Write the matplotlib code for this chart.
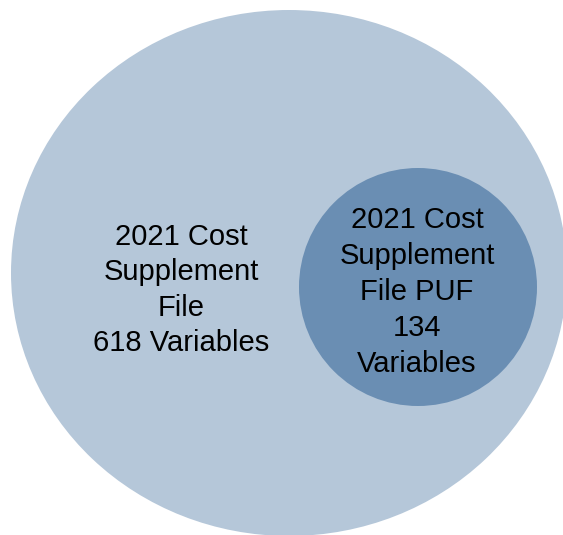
import matplotlib.pyplot as plt
from matplotlib.patches import Ellipse, Circle

# data
file_names = ["2021 Cost\nSupplement\nFile", "2021 Cost\nSupplement\nFile PUF"]
var_counts = [618, 134]
colors = ['#b5c7d9', '#6a8eb3']

fig = plt.figure(figsize=(5.63, 5.35), dpi=100)
ax = fig.add_axes([0, 0, 1, 1])
ax.set_xlim(0, 563)
ax.set_ylim(535, 0)
ax.axis('off')

# outer (full file) and inner (PUF) circles
ax.add_patch(Ellipse((289, 273), 556, 526, facecolor=colors[0], edgecolor='none'))
ax.add_patch(Circle((418, 287), 119, facecolor=colors[1], edgecolor='none'))

labels = [
    file_names[0] + "\n" + str(var_counts[0]) + " Variables",
    file_names[1] + "\n" + str(var_counts[1]) + "\nVariables",
]
ax.text(181, 290, labels[0], ha='center', va='center', fontsize=21,
        family='Liberation Sans', linespacing=1.32, color='black')
ax.text(417, 292, labels[1], ha='center', va='center', fontsize=21,
        family='Liberation Sans', linespacing=1.36, color='black')

plt.savefig('out.png', dpi=100)
